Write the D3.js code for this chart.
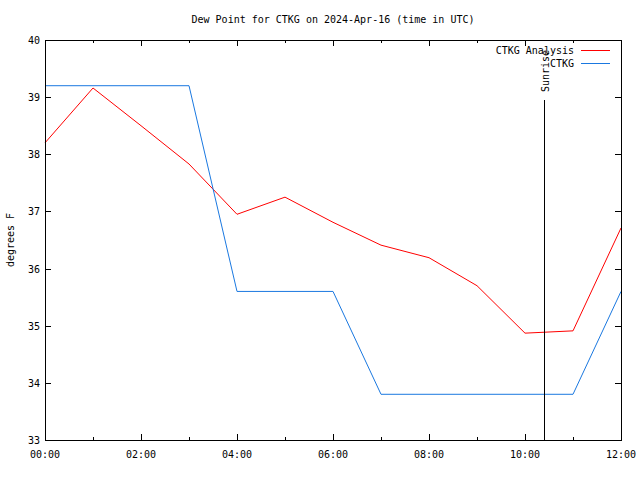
<!DOCTYPE html>
<html><head><meta charset="utf-8">
<script src="https://cdn.jsdelivr.net/npm/d3@7"></script>
<style>body{margin:0;background:#fff}svg{display:block}text{font-family:"DejaVu Sans Mono","Liberation Mono",monospace;font-size:10px;fill:#000}</style>
</head><body>
<script>
const hours = [0,1,2,3,4,5,6,7,8,9,10,11,12];
const analysisValues = [38.2,39.16,38.5,37.83,36.95,37.25,36.81,36.41,36.19,35.7,34.87,34.91,36.71];
const stationValues = [39.2,39.2,39.2,39.2,35.6,35.6,35.6,33.8,33.8,33.8,33.8,33.8,35.6];
const xTickLabels = ["00:00","02:00","04:00","06:00","08:00","10:00","12:00"];
const yTicks = [33,34,35,36,37,38,39,40];
const sunriseHour = 10.4;
const seriesNames = ["CTKG Analysis","CTKG"];
const seriesColors = ["#ff0000","#1a78e0"];

const W=640,H=480,L=45,R=621,T=40,B=440;
const svg=d3.select("body").append("svg").attr("width",W).attr("height",H);
const x=d3.scaleLinear().domain([0,12]).range([L,R]);
const y=d3.scaleLinear().domain([33,40]).range([B,T]);

// ticks (mirrored, gnuplot style)
const g=svg.append("g").attr("stroke","#000").attr("stroke-width",1).attr("shape-rendering","crispEdges");
const maj=6,min=3;
hours.forEach(h=>{
  const len = h%2===0?maj:min;
  const px=Math.round(x(h))+0.5;
  g.append("line").attr("x1",px).attr("x2",px).attr("y1",B).attr("y2",B-len);
  g.append("line").attr("x1",px).attr("x2",px).attr("y1",T).attr("y2",T+len);
});
yTicks.forEach(v=>{
  const py=Math.round(y(v))+0.5;
  g.append("line").attr("x1",L).attr("x2",L+maj).attr("y1",py).attr("y2",py);
  g.append("line").attr("x1",R).attr("x2",R-maj).attr("y1",py).attr("y2",py);
});

// tick labels
yTicks.forEach(v=>{
  svg.append("text").attr("x",40).attr("y",y(v)+4).attr("text-anchor","end").text(v);
});
xTickLabels.forEach((t,i)=>{
  svg.append("text").attr("x",x(i*2)).attr("y",458).attr("text-anchor","middle").text(t);
});

// lines
const line=d3.line().x((d,i)=>x(hours[i])).y(d=>y(d));
[analysisValues,stationValues].forEach((vals,k)=>{
  svg.append("path").datum(vals).attr("d",line).attr("fill","none").attr("stroke",seriesColors[k]).attr("stroke-width",1);
});

// sunrise
const sx=Math.round(x(sunriseHour))+0.5;
svg.append("line").attr("x1",sx).attr("x2",sx).attr("y1",100).attr("y2",B).attr("stroke","#000").attr("shape-rendering","crispEdges");
svg.append("text").attr("transform",`translate(${sx+4},92) rotate(-90)`).attr("text-anchor","start").text("Sunrise");

// border
svg.append("rect").attr("x",L+0.5).attr("y",T+0.5).attr("width",R-L).attr("height",B-T).attr("fill","none").attr("stroke","#000").attr("shape-rendering","crispEdges");

// legend
seriesNames.forEach((n,k)=>{
  const ly=50+k*13;
  svg.append("text").attr("x",574).attr("y",ly+4).attr("text-anchor","end").text(n);
  svg.append("line").attr("x1",581).attr("x2",610).attr("y1",ly+0.5).attr("y2",ly+0.5).attr("stroke",seriesColors[k]).attr("shape-rendering","crispEdges");
});

// title and axis label
svg.append("text").attr("x",333).attr("y",23).attr("text-anchor","middle").text("Dew Point for CTKG on 2024-Apr-16 (time in UTC)");
svg.append("text").attr("transform","translate(14,240) rotate(-90)").attr("text-anchor","middle").text("degrees F");
</script>
</body></html>
